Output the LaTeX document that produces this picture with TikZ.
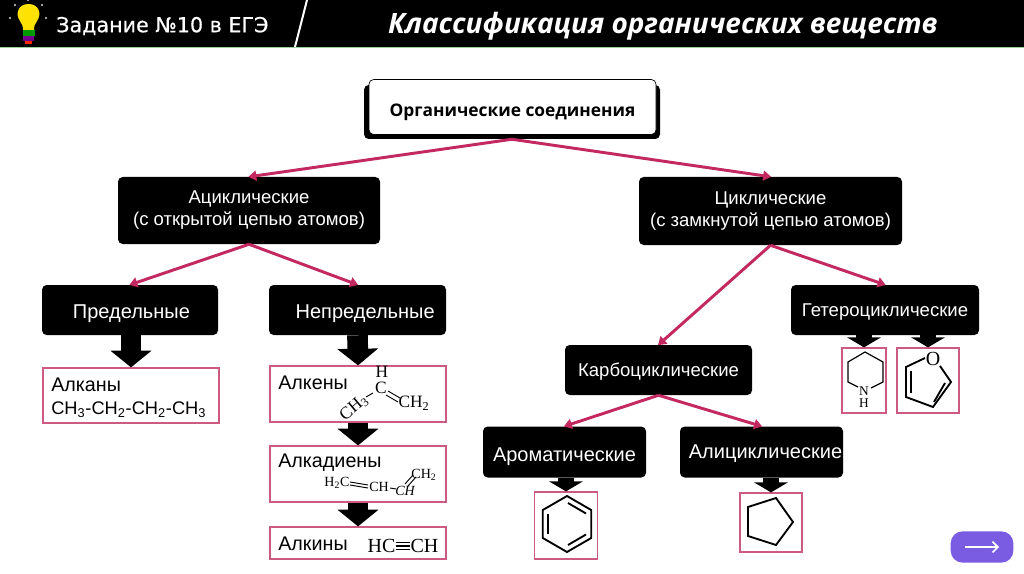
\documentclass[tikz,border=0pt]{standalone}
\usepackage{fontspec}
\setmainfont{Liberation Sans}
\newfontfamily\headfont{Open Sans}
\newfontfamily\taskfont[FakeBold=0.5]{DejaVu Sans}
\newfontfamily\chemfont{Liberation Serif}
\usepackage{xcolor}
\definecolor{treepink}{RGB}{196,40,96}
\definecolor{framepink}{RGB}{205,90,130}
\definecolor{btnpurple}{RGB}{122,92,226}
\usepackage{tikz}
\usetikzlibrary{positioning,arrows.meta,calc}

\begin{document}
\begin{tikzpicture}[x=0.75pt, y=-0.75pt]
        \tikzset{
          darkbox/.style 2 args={rectangle, rounded corners=3.5pt, fill=black, text=white, inner sep=0pt,
                          align=center, minimum width=#1*0.75pt, minimum height=#2*0.75pt,
                          font=\fontsize{13.9}{16.5}\selectfont},
          pinkbox/.style 2 args={rectangle, draw=framepink, line width=0.9pt, fill=white, inner sep=0pt,
                          minimum width=#1*0.75pt, minimum height=#2*0.75pt},
          boxtext/.style={inner sep=0pt, anchor=west, font=\fontsize{14.8}{17}\selectfont},
          chem/.style={inner sep=0pt, font=\chemfont\fontsize{#1}{#1}\selectfont},
          treearrow/.style={draw=treepink, line width=2.2pt, -{Triangle[length=6pt,width=7.5pt]}, shorten >=-0.5pt},
          blockarrow/.style={draw=black, line width=15.5pt, -{Triangle[length=12.5pt,width=30pt]}},
          smallarrow/.style={draw=black, line width=12pt, -{Triangle[length=7.5pt,width=25pt]}},
          bond/.style={draw=black, line width=1.4pt},
          thinbond/.style={draw=black, line width=0.7pt}
        }
        \useasboundingbox (0,0) rectangle (1024,574);
        \fill[white] (0,0) rectangle (1024,574);
        % Header
        \fill[black] (0,0) rectangle (1024,47);
        \draw[black!45!green!40!white, line width=0.6pt] (0,47.5) -- (1024,47.5);
        \draw[white, line width=1.5pt] (307,0) -- (295,47);
        \node[text=white, inner sep=0pt, anchor=west, font=\taskfont\fontsize{15.5}{18}\selectfont] (task) at (56,26) {Задание №10 в ЕГЭ};
        \node[text=white, inner sep=0pt, font=\headfont\bfseries\itshape\fontsize{21}{24}\selectfont] (title) at (663,26) {Классификация органических веществ};
        % Lamp
        \fill[yellow!85!orange] (28.5,4) .. controls (18,4) and (15,14) .. (20,21) .. controls (22,24) and (23,26) .. (23,30) -- (34,30) .. controls (34,26) and (35,24) .. (37,21) .. controls (42,14) and (39,4) .. (28.5,4);
        \fill[green!60!black] (22.5,30) rectangle (34.5,36);
        \fill[blue!55!red] (23,36) rectangle (34,41);
        \fill[red!70!orange] (25,41) rectangle (32,44);
        \foreach \x/\y in {10/18,15/5,28/0,42/5,46/18} {
          \fill[white!85!black] (\x,\y) circle (0.8pt);
        }
        % Root
        \node[darkbox={296}{54}] (rootback) at (512,112) {};
        \node[darkbox={287}{55}, fill=white, draw=black, line width=0.5pt, text=black, text height=16.5pt, text depth=2.7pt,
              font=\headfont\bfseries\fontsize{13}{15}\selectfont] (root) at (512.5,107) {Органические соединения};
        % Dark boxes
        \node[darkbox={262}{67}] (acyc) at (249,210.5) {Ациклические\\(с открытой цепью атомов)};
        \node[darkbox={263}{68}] (cyc) at (770.5,211) {Циклические\\(с замкнутой цепью атомов)};
        \node[darkbox={176}{50}, font=\fontsize{15}{18}\selectfont, text height=15.4pt, text depth=3.2pt] (pred) at (130,310) {\hspace{2.2pt}Предельные};
        \node[darkbox={177}{50}, font=\fontsize{15}{18}\selectfont, text height=15.4pt, text depth=3.2pt] (nepred) at (357.5,310) {\hspace{11.5pt}Непредельные};
        \node[darkbox={187}{50}, text height=13pt, text depth=2.9pt] (karbo) at (658.5,370) {Карбоциклические};
        \node[darkbox={188}{50}, text height=13pt, text depth=2.9pt] (hetero) at (885,310) {Гетероциклические};
        \node[darkbox={163}{51}, font=\fontsize{15}{18}\selectfont, text height=17pt, text depth=3.2pt] (arom) at (564.5,452) {Ароматические};
        \node[darkbox={163}{51}, font=\fontsize{15}{18}\selectfont, text height=12.4pt, text depth=3.2pt] (alic) at (761.5,452) {\hspace{6pt}Алициклические};
        % Pink boxes
        \node[pinkbox={176}{55}] (alkan) at (131,395.5) {};
        \node[pinkbox={176}{56}] (alken) at (358,394) {};
        \node[pinkbox={176}{56}] (alkad) at (358,474) {};
        \node[pinkbox={176}{32}] (alkin) at (358,543) {};
        \node[pinkbox={44}{65}] (piper) at (864,380.5) {};
        \node[pinkbox={62}{65}] (furan) at (928,380.5) {};
        \node[pinkbox={63}{67}] (benz) at (566,525.5) {};
        \node[pinkbox={62}{59}] (cyclo) at (771,522.5) {};
        % Tree connections
        \foreach \a/\b in {rootback/acyc,rootback/cyc,acyc/pred,acyc/nepred,cyc/karbo,cyc/hetero,karbo/arom,karbo/alic} {
          \draw[treearrow] (\a.south) -- (\b.north);
        }
        % Block arrows
        \draw[blockarrow] (pred.south -| alkan.north) -- (alkan.north);
        \draw[blockarrow] (nepred.south) -- (alken.north);
        \draw[blockarrow] (alken.south) -- (alkad.north);
        \draw[blockarrow] (alkad.south) -- (alkin.north);
        \draw[smallarrow] (hetero.south -| piper.north) -- (piper.north);
        \draw[smallarrow] (hetero.south -| furan.north) -- (furan.north);
        \draw[smallarrow] (arom.south -| benz.north) -- (benz.north);
        \draw[smallarrow] (alic.south -| cyclo.north) -- (cyclo.north);
        % Labels in pink boxes
        \node[boxtext] (alkant) at (51,385) {Алканы};
        \node[boxtext, font=\fontsize{13.7}{16}\selectfont] (alkanf) at (51,410) {CH\textsubscript{3}-CH\textsubscript{2}-CH\textsubscript{2}-CH\textsubscript{3}};
        \node[boxtext] (alkent) at (278,383) {Алкены};
        \node[boxtext] (alkadt) at (278,463) {Алкадиены};
        \node[boxtext] (alkint) at (278,544) {Алкины};
        % Propene
        \node[chem=13] (pH) at (382,372) {H};
        \node[chem=13] (pC) at (381,388) {C};
        \node[chem=13] (pCH2) at (414,403) {CH\textsubscript{2}};
        \node[chem=13, rotate=40] (pCH3) at (354,408) {CH\textsubscript{3}};
        \draw[thinbond] (373,393) -- (366,397);
        \draw[thinbond] (388,391) -- (400,398);
        \draw[thinbond] (386,395) -- (398,402);
        % Butadiene
        \node[chem=10.5] (bH2C) at (337,483) {H\textsubscript{2}C};
        \node[chem=10.5] (bCH) at (379,487) {CH};
        \node[chem=10.5, font=\chemfont\itshape\fontsize{10.5}{10.5}\selectfont] (bCHb) at (405,491) {CH};
        \node[chem=10.5] (bCH2) at (424,475) {CH\textsubscript{2}};
        \draw[thinbond] (350,482) -- (368,485);
        \draw[thinbond] (350,485) -- (368,488);
        \draw[thinbond] (390,488) -- (396,489);
        \draw[thinbond] (405,484) -- (413,475);
        \draw[thinbond] (408,486) -- (416,477);
        % Acetylene
        \node[chem=15] (hc) at (381.5,546) {HC};
        \node[chem=15] (ch) at (424.5,546) {CH};
        \foreach \s in {-2.6,0,2.6} {
          \draw[thinbond, line width=0.9pt] ([yshift=\s pt]hc.east) -- ([yshift=\s pt]ch.west);
        }
        % Piperidine
        \node[chem=10] (pipN) at (864,391) {N};
        \node[chem=10] (pipH) at (864,403) {H};
        \draw[thinbond, line width=0.9pt] (858,387) -- (848,382) -- (848,362) -- (865,352) -- (883,362) -- (883,382) -- (871,388);
        % Furan
        \node[chem=15] (furO) at (933,359) {O};
        \draw[bond] (925,358) -- (906,367) -- (906,397) -- (933,407) -- (951,382) -- (940,366);
        \draw[bond] (911,371) -- (911,393);
        \draw[bond] (945,383) -- (934,402);
        % Benzene
        \draw[bond] (567,496) -- (591.2,510) -- (591.2,538) -- (567,552) -- (542.8,538) -- (542.8,510) -- cycle;
        \draw[bond] (568,503) -- (586,513.5);
        \draw[bond] (586,534.5) -- (568,545);
        \draw[bond] (548,514) -- (548,534);
        % Cyclopentane
        \draw[bond] (776,498) -- (793,522) -- (776,545) -- (748,536) -- (748,507) -- cycle;
        % Next button
        \node[rectangle, rounded corners=9pt, fill=btnpurple, inner sep=0pt, minimum width=47pt, minimum height=23.5pt] (nextbtn) at (982,547) {};
        \coordinate (nextA) at (965,547);
        \coordinate (nextB) at (999,547);
        \draw[white, line width=1.2pt, -{Straight Barb[length=4pt,width=8pt]}] (nextA) -- (nextB);
\end{tikzpicture}
\end{document}
